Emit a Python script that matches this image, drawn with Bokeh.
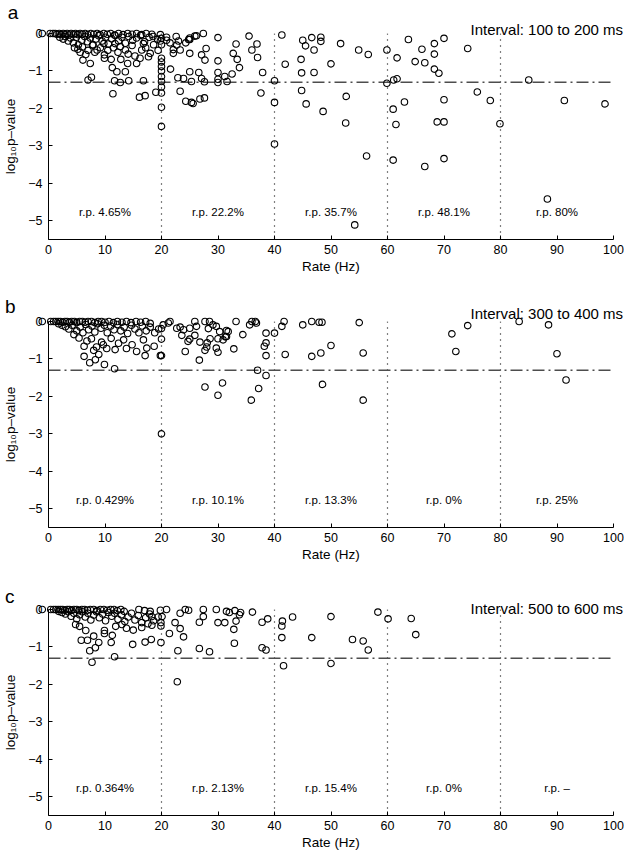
from bokeh.plotting import figure
from bokeh.models import Span, FixedTicker, ColumnDataSource, Range1d, CustomJSTickFormatter
from bokeh.layouts import column
from bokeh.embed import file_html
from bokeh.resources import INLINE
from bokeh.core.properties import value

FONT = "Liberation Sans"

# ---------------- data ----------------
panel_letters = ["a", "b", "c"]
interval_titles = ["Interval: 100 to 200 ms", "Interval: 300 to 400 ms", "Interval: 500 to 600 ms"]
bin_edges = [20, 40, 60, 80]
bin_centers = [10, 30, 50, 70, 90]
rp_a = ["r.p. 4.65%", "r.p. 22.2%", "r.p. 35.7%", "r.p. 48.1%", "r.p. 80%"]
rp_b = ["r.p. 0.429%", "r.p. 10.1%", "r.p. 13.3%", "r.p. 0%", "r.p. 25%"]
rp_c = ["r.p. 0.364%", "r.p. 2.13%", "r.p. 15.4%", "r.p. 0%", "r.p. \u2013"]
threshold = -1.301  # log10(0.05)
x_ticks = [0, 10, 20, 30, 40, 50, 60, 70, 80, 90, 100]
y_ticks = [-5, -4, -3, -2, -1, 0]

# (rate Hz, log10 p-value)
points_a = [
    (-1.1, 0), (0.3, 0), (0.8, 0), (1.2, 0), (1.5, -0.02), (1.9, 0), (2.2, -0.03), (2.6, 0), (2.9, -0.02),
    (3.3, 0), (3.6, -0.04), (4.0, 0), (4.4, -0.02), (4.8, 0), (5.2, -0.03), (5.6, 0), (6.0, -0.02), (6.5, 0),
    (7.0, -0.03), (7.5, 0), (8.0, -0.02), (8.6, 0), (9.1, -0.03), (9.8, 0), (10.4, -0.02), (11.0, 0),
    (11.7, -0.04), (12.4, 0), (13.2, -0.03), (14.0, 0), (14.8, -0.02), (15.6, 0), (16.5, -0.03), (17.3, 0),
    (18.3, -0.02), (19.8, -0.03), (20.9, -0.1), (22.6, -0.08), (25.0, -0.12), (26.2, -0.06), (27.4, 0.0),
    (30.0, -0.11), (35.5, -0.07), (41.3, -0.04),
    (2.0, -0.10), (2.6, -0.15), (3.0, -0.08), (3.5, -0.20), (3.9, -0.12), (4.4, -0.25), (4.9, -0.10),
    (5.3, -0.30), (5.9, -0.18), (6.4, -0.08), (6.9, -0.22), (7.4, -0.12), (7.9, -0.30), (8.4, -0.15),
    (8.9, -0.06), (9.5, -0.20), (10.1, -0.10), (10.6, -0.28), (11.2, -0.14), (11.8, -0.05), (12.4, -0.20),
    (13.0, -0.10), (13.6, -0.26), (14.2, -0.08), (14.9, -0.18), (15.6, -0.12), (16.3, -0.05), (17.0, -0.22),
    (17.8, -0.10), (18.5, -0.08), (19.3, -0.15),
    (4.6, -0.38), (5.2, -0.42), (5.6, -0.50), (6.0, -0.36), (6.6, -0.56), (7.0, -0.45), (7.8, -0.31),
    (8.2, -0.50), (8.6, -0.44), (9.2, -0.38), (9.8, -0.27), (9.9, -0.57), (9.9, -0.66), (10.5, -0.45),
    (11.1, -0.69), (11.5, -0.38), (11.8, -0.27), (12.3, -0.50), (12.7, -0.35), (12.8, -0.69), (13.6, -0.44),
    (14.1, -0.55), (14.8, -0.32), (15.3, -0.60), (16.2, -0.66), (16.5, -0.44), (16.8, -0.27), (17.2, -0.38),
    (17.7, -0.62), (18.0, -0.53), (18.6, -0.30), (19.4, -0.45), (19.8, -0.20), (20.0, -0.30), (20.0, -0.13),
    (20.0, -0.66), (20.0, -0.76), (20.0, -0.88), (20.0, -1.00), (20.0, -1.15), (20.0, -1.28), (20.0, -1.43),
    (20.0, -1.59), (20.0, -1.97), (20.0, -2.48),
    (6.1, -0.71), (7.4, -0.80), (7.6, -1.17), (7.0, -1.24), (11.3, -0.91), (12.1, -1.02), (13.6, -1.02),
    (11.7, -1.26), (12.7, -1.31), (14.2, -1.26), (11.4, -1.61), (14.0, -0.80), (15.6, -0.80), (16.8, -1.26),
    (16.1, -1.70), (17.1, -1.66), (19.0, -1.57),
    (20.9, -0.18), (22.1, -0.53), (22.7, -0.31), (23.3, -0.44), (24.3, -0.25), (25.0, -0.16), (25.0, -0.53),
    (25.9, -0.07), (27.1, -0.57), (27.7, -0.71), (27.9, -0.40), (30.0, -0.73), (32.7, -0.53), (33.4, -0.69),
    (33.2, -0.28), (21.5, -0.25), (22.1, -0.43), (23.0, -0.20), (24.8, -0.16),
    (21.6, -0.95), (22.9, -1.18), (23.9, -1.20), (25.0, -1.02), (25.3, -1.28), (26.6, -1.04), (27.1, -1.20),
    (27.6, -1.29), (30.0, -1.31), (30.0, -1.22), (30.0, -1.04), (31.2, -1.15), (31.6, -1.28), (32.5, -1.08),
    (33.8, -0.91), (36.9, -0.28), (36.0, -0.44), (37.0, -0.64),
    (23.3, -1.54), (24.3, -1.81), (25.3, -1.84), (25.6, -1.87), (26.8, -1.75), (27.6, -1.72),
    (37.9, -1.04), (37.6, -1.59), (40.0, -1.26), (40.0, -1.84), (40.0, -2.95), (41.9, -0.82),
    (45.0, -0.18), (45.5, -0.33), (46.6, -0.11), (48.2, -0.10), (48.2, -0.21), (47.0, -0.44), (44.7, -0.69),
    (44.8, -1.05), (47.0, -1.04), (44.8, -1.52), (45.6, -1.88), (48.6, -2.08),
    (51.7, -0.27), (54.9, -0.44), (56.6, -0.56), (50.0, -0.81), (52.7, -1.68), (52.6, -2.39), (56.3, -3.27),
    (54.2, -5.11), (59.9, -0.44), (59.9, -1.33), (61.1, -1.24), (61.7, -1.21), (61.7, -0.65), (61.0, -2.02),
    (61.5, -2.43), (61.0, -3.38), (63.0, -1.83), (63.7, -0.16), (64.9, -0.75), (66.1, -0.42), (66.6, -0.78),
    (66.6, -3.55), (68.3, -0.27), (68.3, -0.55), (68.3, -0.95), (69.1, -1.06), (70.0, -0.13), (70.0, -1.77),
    (68.8, -2.36), (70.0, -2.36), (70.0, -3.34), (74.2, -0.40), (75.9, -1.56), (78.2, -1.79), (79.9, -2.41),
    (85.0, -1.24), (91.3, -1.79), (98.5, -1.88), (88.3, -4.42),
]

points_b = [
    (-1.1, 0), (0.4, 0), (0.9, 0), (1.3, 0), (1.7, 0), (2.1, 0), (2.5, -0.02), (2.9, 0), (3.3, 0), (3.7, -0.02),
    (4.1, 0), (4.6, 0), (5.0, -0.03), (5.5, 0), (6.0, 0), (6.5, -0.02), (7.0, 0), (7.6, 0), (8.2, -0.03),
    (8.8, 0), (9.4, 0), (10.0, -0.02), (10.7, 0), (11.5, -0.03), (12.2, 0), (13.0, -0.02), (13.8, 0),
    (14.6, -0.03), (15.5, 0), (16.3, -0.02), (17.2, 0), (18.0, -0.05),
    (1.8, -0.06), (2.4, -0.10), (3.0, -0.14), (3.6, -0.20), (4.2, -0.10), (4.5, -0.35), (5.0, -0.25),
    (5.6, -0.15), (6.1, -0.30), (6.6, -0.08), (7.1, -0.22), (7.7, -0.12), (8.2, -0.28), (8.7, -0.06),
    (9.3, -0.18), (9.9, -0.10), (10.4, -0.30), (11.0, -0.12), (11.6, -0.22), (12.2, -0.08), (12.8, -0.25),
    (13.4, -0.15), (14.0, -0.32), (14.7, -0.10), (15.3, -0.20), (16.0, -0.30), (16.6, -0.12), (17.3, -0.25),
    (18.0, -0.15), (18.8, -0.30), (19.5, -0.20), (20.0, -0.47),
    (5.4, -0.44), (6.3, -0.66), (6.8, -0.52), (7.6, -0.46), (8.0, -0.77), (8.5, -0.68), (9.4, -0.55),
    (9.7, -0.62), (10.3, -0.72), (11.1, -0.45), (11.8, -0.75), (12.4, -0.58), (13.3, -0.49), (13.8, -0.72),
    (14.8, -0.62), (15.6, -0.80), (16.8, -0.49), (17.1, -0.91), (17.4, -0.71), (18.7, -0.66), (19.8, -0.91),
    (6.3, -0.93), (7.3, -1.10), (8.3, -1.02), (8.9, -0.88), (9.9, -1.15), (11.7, -1.26),
    (20.3, -0.09), (21.2, -0.04), (21.5, 0.0), (22.7, -0.18), (23.9, -0.22), (25.0, -0.18), (25.9, 0.0),
    (26.2, -0.13), (23.3, -0.15), (23.6, -0.37), (25.9, -0.37), (26.8, -0.55), (28.3, -0.19), (28.6, -0.46),
    (28.0, -0.68), (27.7, 0.0), (28.5, 0.0), (29.1, -0.09), (29.7, -0.13), (30.3, -0.27), (30.9, -0.49),
    (31.5, -0.40), (31.8, -0.27), (30.0, -0.46), (31.3, -0.41), (31.5, -0.24), (33.2, 0.0), (34.4, -0.35),
    (35.6, -0.09), (36.0, 0.0), (36.6, 0.0), (36.8, -0.04), (20.0, -0.19), (20.0, -0.91),
    (24.2, -0.80), (26.7, -1.03), (27.7, -0.77), (28.1, -0.57), (29.7, -0.71), (30.0, -0.82), (32.8, -0.73),
    (24.7, -0.53), (25.0, -0.47), (27.7, -1.75), (30.0, -1.97), (30.8, -1.64), (35.9, -2.10), (37.2, -1.79),
    (37.0, -1.30), (38.5, -1.44), (38.5, -0.91), (38.2, -0.66), (38.5, -0.57), (38.5, -0.31), (40.0, -0.31),
    (41.3, -0.13), (41.7, 0.0), (41.9, -0.88), (20.0, -3.00),
    (45.0, -0.09), (46.6, 0.0), (47.9, -0.02), (48.4, -0.02), (55.0, -0.03), (46.6, -0.93), (48.2, -0.84),
    (50.0, -0.64), (55.7, -0.84), (48.5, -1.68), (55.7, -2.10), (71.4, -0.33), (74.2, -0.11), (72.1, -0.80),
    (83.3, 0.0), (88.5, -0.09), (90.0, -0.86), (91.6, -1.56),
]

points_c = [
    (-1.1, 0), (0.4, 0), (0.9, 0), (1.3, 0), (1.7, 0), (2.1, 0), (2.5, 0), (2.9, -0.02), (3.3, 0), (3.7, 0),
    (4.1, -0.02), (4.5, 0), (5.0, 0), (5.4, -0.03), (5.9, 0), (6.4, 0), (6.9, -0.02), (7.4, 0), (8.0, 0),
    (8.6, -0.03), (9.2, 0), (9.8, 0), (10.4, -0.02), (11.0, 0), (11.6, 0), (12.2, -0.03), (12.8, 0),
    (13.4, -0.05), (16.0, 0), (17.0, -0.03), (18.0, -0.05), (19.8, -0.02), (20.9, 0), (24.2, 0),
    (24.8, -0.02), (27.4, 0), (29.7, 0), (31.5, -0.05), (32.0, -0.08), (33.0, -0.03), (34.0, -0.08),
    (36.1, -0.07),
    (1.8, -0.05), (2.4, -0.08), (3.0, -0.12), (3.5, -0.06), (4.0, -0.18), (4.5, -0.10), (5.0, -0.25),
    (5.5, -0.14), (6.0, -0.06), (6.5, -0.20), (7.0, -0.10), (7.5, -0.28), (8.0, -0.15), (8.5, -0.06),
    (9.0, -0.22), (9.6, -0.12), (10.1, -0.30), (10.6, -0.08), (11.2, -0.18), (11.7, -0.10), (12.3, -0.26),
    (12.9, -0.14), (13.5, -0.32), (14.1, -0.20), (14.7, -0.10), (15.3, -0.28), (15.9, -0.16), (16.5, -0.35),
    (17.2, -0.22), (17.9, -0.12), (18.6, -0.30), (19.4, -0.20),
    (4.8, -0.40), (5.5, -0.45), (6.6, -0.56), (8.0, -0.71), (9.9, -0.64), (9.9, -0.56), (11.3, -0.69),
    (11.9, -0.45), (13.0, -0.40), (13.8, -0.50), (15.0, -0.55), (16.5, -0.48), (17.6, -0.38), (18.3, -0.42),
    (19.9, -0.44), (19.9, -0.35), (20.1, -0.19), (18.3, -0.19),
    (5.8, -0.82), (6.9, -0.82), (7.3, -1.10), (8.3, -1.02), (8.9, -0.88), (7.7, -1.41), (11.1, -0.88),
    (11.7, -1.26), (14.9, -0.93), (17.1, -0.87), (18.2, -0.80), (19.9, -0.88),
    (21.4, -0.64), (22.4, -0.35), (23.3, -0.51), (23.9, -0.73), (22.9, -1.10), (22.8, -1.93), (26.7, -1.04),
    (28.5, -1.13), (26.7, -0.34), (27.4, -0.19), (23.3, -0.10), (30.0, -0.35), (31.2, -0.35), (32.8, -0.53),
    (32.9, -0.90), (33.2, -0.31), (33.8, -0.14), (37.8, -0.34), (38.8, -0.25), (37.8, -1.02), (38.5, -1.08),
    (41.4, -0.31), (41.3, -0.44), (41.3, -0.75), (41.6, -1.50), (43.2, -0.20), (46.6, -0.75),
    (50.0, -0.19), (50.0, -1.44), (53.8, -0.80), (55.7, -0.84), (56.6, -1.08), (58.3, -0.07), (60.1, -0.25),
    (64.2, -0.24), (65.0, -0.67),
]

# ---------------- layout ----------------
W = 624
LEFT, RIGHT = 44, 11
FRAME_H = 206
# (points, r.p. labels, top border, bottom border, title baseline y, letter x, letter baseline y)
panel_specs = [
    (points_a, rp_a, 33, 51, 0.11, -7.2, 0.56),
    (points_b, rp_b, 31, 51, 0.22, -7.7, 0.39),
    (points_c, rp_c, 31, 37, 0.02, -7.7, 0.35),
]

minus_fmt = CustomJSTickFormatter(code="return tick < 0 ? '\u2212' + Math.abs(tick) : String(tick);")


def make_panel(idx, pts, rp, top, bottom, title_y, letter_x, letter_y):
    p = figure(width=W, height=top + FRAME_H + bottom,
               x_range=Range1d(0, 100), y_range=Range1d(-5.5, 0),
               output_backend="svg", toolbar_location=None,
               min_border_left=LEFT, min_border_right=RIGHT,
               min_border_top=top, min_border_bottom=bottom,
               background_fill_color="white", border_fill_color="white")
    p.outline_line_color = None
    p.xgrid.visible = False
    p.ygrid.visible = False

    for ax in (p.xaxis[0], p.yaxis[0]):
        ax.major_tick_in = 4
        ax.major_tick_out = 0
        ax.minor_tick_in = 0
        ax.minor_tick_out = 0
        ax.axis_line_color = "black"
        ax.major_tick_line_color = "black"
        ax.major_label_text_font = FONT
        ax.major_label_text_font_size = "12.5px"
        ax.major_label_text_color = "black"
        ax.axis_label_text_font = FONT
        ax.axis_label_text_font_size = "13.5px"
        ax.axis_label_text_font_style = "normal"
        ax.axis_label_text_color = "black"

    p.xaxis.ticker = FixedTicker(ticks=x_ticks)
    p.yaxis.ticker = FixedTicker(ticks=y_ticks)
    p.yaxis.formatter = minus_fmt
    p.xaxis.axis_label = "Rate (Hz)"
    p.yaxis.axis_label = "log\u2081\u2080p\u2013value"
    p.xaxis.major_label_standoff = 5
    p.xaxis.axis_label_standoff = 2
    p.yaxis.major_label_standoff = 6
    p.yaxis.axis_label_standoff = 7

    for e in bin_edges:
        p.add_layout(Span(location=e, dimension="height", line_color="black",
                          line_width=1.2, line_dash="1 5"))
    p.add_layout(Span(location=threshold, dimension="width", line_color="#4d4d4d",
                      line_width=1.4, line_dash="12 4 2 4"))

    src = ColumnDataSource(dict(x=[q[0] for q in pts], y=[q[1] for q in pts]))
    r = p.scatter("x", "y", source=src, marker="circle", size=6.5,
                  fill_color=None, line_color="black", line_width=1.1)
    r.level = "overlay"

    tsrc = ColumnDataSource(dict(x=bin_centers, y=[-4.77] * len(bin_centers), t=rp))
    p.text("x", "y", text="t", source=tsrc, text_font=value(FONT), text_font_size="11.5px",
           text_align="center", text_baseline="middle", text_color="black")

    ttl = ColumnDataSource(dict(x=[101.7], y=[title_y], t=[interval_titles[idx]]))
    rt = p.text("x", "y", text="t", source=ttl, text_font=value(FONT), text_font_size="15px",
                text_align="right", text_baseline="alphabetic", text_color="black")
    rt.level = "overlay"

    let = ColumnDataSource(dict(x=[letter_x], y=[letter_y], t=[panel_letters[idx]]))
    rl = p.text("x", "y", text="t", source=let, text_font=value(FONT), text_font_size="19px",
                text_align="left", text_baseline="alphabetic", text_color="black")
    rl.level = "overlay"
    return p


figs = [make_panel(i, *spec) for i, spec in enumerate(panel_specs)]
layout = column(*figs, spacing=0)

open("out.html", "w").write(file_html(layout, INLINE))
